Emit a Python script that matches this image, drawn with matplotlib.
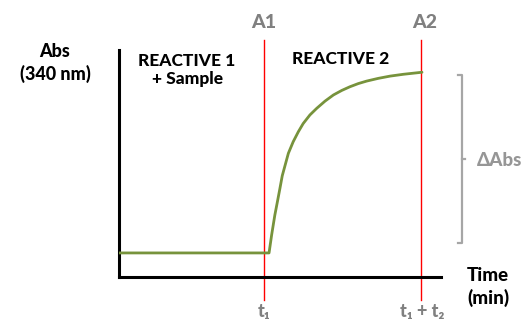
import matplotlib
matplotlib.use("Agg")
import matplotlib.pyplot as plt
from matplotlib import font_manager

# ---- data (time in arbitrary min units, absorbance normalized) ----
time = [0.0, 4.66, 4.74, 4.84, 4.92, 5.00, 5.07, 5.16, 5.26, 5.41, 5.57, 5.72, 5.93,
        6.14, 6.40, 6.66, 6.92, 7.17, 7.43, 7.69, 8.05, 8.42, 8.83, 9.41]
absorbance = [0.106, 0.106, 0.185, 0.273, 0.332, 0.392, 0.446, 0.493, 0.545, 0.596, 0.640,
              0.676, 0.714, 0.743, 0.775, 0.802, 0.822, 0.838, 0.852, 0.863, 0.875, 0.885,
              0.893, 0.902]
t1 = 4.5
t1_t2 = 9.38
delta_top = 0.89
delta_bottom = 0.15
marker_labels = ["A1", "A2"]
time_labels = ["t\u2081", "t\u2081 + t\u2082"]

# pick a family that actually has a bold face installed
bold_families = set()
for f in font_manager.fontManager.ttflist:
    w = f.weight if isinstance(f.weight, int) else 400
    if isinstance(f.weight, str) and "bold" in f.weight.lower():
        w = 700
    if w >= 600:
        bold_families.add(f.name)
main = "DejaVu Sans"
for cand in ["Lato", "Open Sans", "Noto Sans", "Roboto", "Liberation Sans"]:
    if cand in bold_families:
        main = cand
        break
FONT = [main, "DejaVu Sans"]
plt.rcParams["font.family"] = FONT
WT = 900

W, H = 526, 322
fig = plt.figure(figsize=(W / 100, H / 100), dpi=100)
ax = fig.add_axes([119 / W, (H - 277) / H, (441 - 119) / W, (277 - 50) / H])
ax.set_xlim(0, 10)
ax.set_ylim(0, 1)
for s in ["top", "right"]:
    ax.spines[s].set_visible(False)
for s in ["left", "bottom"]:
    ax.spines[s].set_linewidth(2.2)
    ax.spines[s].set_color("black")
ax.set_xticks([])
ax.set_yticks([])
ax.patch.set_alpha(0)

for xv in [t1, t1_t2]:
    ax.plot([xv, xv], [-0.101, 1.044], color="#FF0000", lw=1.0, clip_on=False, zorder=1)

ax.plot(time, absorbance, color="#77933C", lw=2.0, solid_joinstyle="round",
        solid_capstyle="round", zorder=3)

gray = "#A6A6A6"
bx = 10.66
ax.plot([bx - 0.13, bx, bx, bx - 0.13], [delta_top, delta_top, delta_bottom, delta_bottom],
        color=gray, lw=1.6, clip_on=False)
mid = (delta_top + delta_bottom) / 2
ax.plot([bx, bx + 0.1], [mid, mid], color=gray, lw=1.6, clip_on=False)

tg = "#808080"
ax.text(11.83, 0.515, "\u0394Abs", color="#969696", fontsize=13.5, fontweight=WT,
        ha="center", va="center", clip_on=False)
ax.text(t1, 1.119, marker_labels[0], color=tg, fontsize=14, fontweight=WT,
        ha="center", va="center", clip_on=False)
ax.text(9.5, 1.119, marker_labels[1], color=tg, fontsize=14, fontweight=WT,
        ha="center", va="center", clip_on=False)
ax.text(t1, -0.154, time_labels[0], color=tg, fontsize=13, fontweight=WT,
        ha="center", va="center", clip_on=False)
ax.text(9.41, -0.154, time_labels[1], color=tg, fontsize=13, fontweight=WT,
        ha="center", va="center", clip_on=False)

fig.text(55 / W, 1 - 63 / H, "Abs\n(340 nm)", fontsize=13, fontweight=WT,
         ha="center", va="center", linespacing=1.35)
fig.text(488 / W, 1 - 287 / H, "Time\n(min)", fontsize=13.5, fontweight=WT,
         ha="center", va="center", linespacing=1.32)
fig.text(187 / W, 1 - 70 / H, "REACTIVE 1\n+ Sample", fontsize=12.5, fontweight=WT,
         ha="center", va="center", linespacing=1.2)
fig.text(341 / W, 1 - 59 / H, "REACTIVE 2", fontsize=12.5, fontweight=WT,
         ha="center", va="center")

fig.savefig("out.png", dpi=100)
